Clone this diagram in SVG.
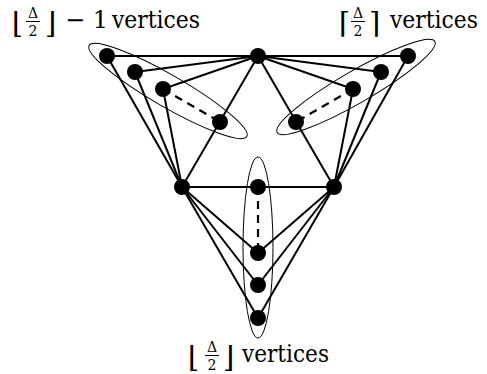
<svg xmlns="http://www.w3.org/2000/svg" width="487" height="374" viewBox="0 0 487 374">
<style>
.e{stroke:#000;stroke-width:2;fill:none}
.d{stroke:#000;stroke-width:2.2;fill:none;stroke-dasharray:8 6}
.grp{stroke:#000;stroke-width:1;fill:none}
.n{fill:#000}
.bar{stroke:#000;stroke-width:1}
.br{font-family:"DejaVu Serif";font-size:29px}
</style>
<rect width="487" height="374" fill="#fff"/>
<g id="connectors">
<line class="e" x1="258" y1="56" x2="182" y2="187"/>
<line class="e" x1="258" y1="56" x2="334" y2="187"/>
<line class="e" x1="182" y1="187" x2="334" y2="187"/>
<line class="e" x1="258" y1="56" x2="107" y2="56"/>
<line class="e" x1="258" y1="56" x2="135" y2="72"/>
<line class="e" x1="258" y1="56" x2="163" y2="89"/>
<line class="e" x1="107" y1="56" x2="182" y2="187"/>
<line class="e" x1="135" y1="72" x2="182" y2="187"/>
<line class="e" x1="163" y1="89" x2="182" y2="187"/>
<line class="d" x1="163" y1="89" x2="220" y2="122"/>
<line class="e" x1="258" y1="56" x2="408" y2="56"/>
<line class="e" x1="258" y1="56" x2="381" y2="72"/>
<line class="e" x1="258" y1="56" x2="353" y2="89"/>
<line class="e" x1="408" y1="56" x2="334" y2="187"/>
<line class="e" x1="381" y1="72" x2="334" y2="187"/>
<line class="e" x1="353" y1="89" x2="334" y2="187"/>
<line class="d" x1="353" y1="89" x2="296" y2="122"/>
<line class="e" x1="182" y1="187" x2="258" y2="253"/>
<line class="e" x1="182" y1="187" x2="258" y2="285"/>
<line class="e" x1="182" y1="187" x2="258" y2="318"/>
<line class="e" x1="334" y1="187" x2="258" y2="253"/>
<line class="e" x1="334" y1="187" x2="258" y2="285"/>
<line class="e" x1="334" y1="187" x2="258" y2="318"/>
<line class="d" x1="258" y1="187" x2="258" y2="253"/>
</g>
<g id="group-left"><ellipse class="grp" cx="168" cy="91" rx="91" ry="16" transform="rotate(30 168 91)"/></g>
<g id="group-right"><ellipse class="grp" cx="356" cy="87" rx="91" ry="16" transform="rotate(-30 356 87)"/></g>
<g id="group-bottom"><ellipse class="grp" cx="258" cy="247.5" rx="15" ry="90.5"/></g>
<g id="T"><circle class="n" cx="258" cy="56" r="8"/></g>
<g id="L"><circle class="n" cx="182" cy="187" r="8"/></g>
<g id="R"><circle class="n" cx="334" cy="187" r="8"/></g>
<g id="A1"><circle class="n" cx="107" cy="56" r="8"/></g>
<g id="A2"><circle class="n" cx="135" cy="72" r="8"/></g>
<g id="A3"><circle class="n" cx="163" cy="89" r="8"/></g>
<g id="A4"><circle class="n" cx="220" cy="122" r="8"/></g>
<g id="B1"><circle class="n" cx="408" cy="56" r="8"/></g>
<g id="B2"><circle class="n" cx="381" cy="72" r="8"/></g>
<g id="B3"><circle class="n" cx="353" cy="89" r="8"/></g>
<g id="B4"><circle class="n" cx="296" cy="122" r="8"/></g>
<g id="C1"><circle class="n" cx="258" cy="187" r="8"/></g>
<g id="C2"><circle class="n" cx="258" cy="253" r="8"/></g>
<g id="C3"><circle class="n" cx="258" cy="285" r="8"/></g>
<g id="C4"><circle class="n" cx="258" cy="318" r="8"/></g>
<g id="label-left" fill="#000" font-family="DejaVu Serif">
<text class="br" x="12" y="33">⌊</text>
<text x="33" y="17.5" font-size="14" text-anchor="middle">Δ</text>
<line class="bar" x1="26" y1="21.5" x2="40" y2="21.5"/>
<text x="33" y="35.5" font-size="14" text-anchor="middle">2</text>
<text class="br" x="45" y="33">⌋</text>
<text x="65" y="28" font-size="24">− 1</text>
<text x="112" y="28" font-size="24" textLength="88" lengthAdjust="spacingAndGlyphs">vertices</text>
</g>
<g id="label-right" fill="#000" font-family="DejaVu Serif">
<text class="br" x="339" y="33">⌈</text>
<text x="358" y="17.5" font-size="14" text-anchor="middle">Δ</text>
<line class="bar" x1="351" y1="21.5" x2="365" y2="21.5"/>
<text x="358" y="35.5" font-size="14" text-anchor="middle">2</text>
<text class="br" x="369" y="33">⌉</text>
<text x="390" y="28" font-size="24" textLength="88" lengthAdjust="spacingAndGlyphs">vertices</text>
</g>
<g id="label-bottom" fill="#000" font-family="DejaVu Serif">
<text class="br" x="188" y="367">⌊</text>
<text x="212" y="351.5" font-size="14" text-anchor="middle">Δ</text>
<line class="bar" x1="205" y1="355.5" x2="219" y2="355.5"/>
<text x="212" y="369.5" font-size="14" text-anchor="middle">2</text>
<text class="br" x="223" y="367">⌋</text>
<text x="242" y="362" font-size="24" textLength="87" lengthAdjust="spacingAndGlyphs">vertices</text>
</g>
</svg>
